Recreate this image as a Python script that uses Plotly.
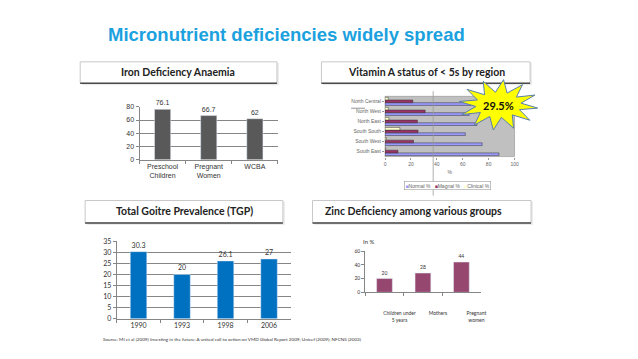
import math
import plotly.graph_objects as go

# page is shown with the default 8px body margin, so the figure is sized to fit inside it
OFF = 8
W, H = 638 - 2 * OFF, 359 - 2 * OFF

# ---------------- data ----------------
iron_cats = ["Preschool<br>Children", "Pregnant<br>Women", "WCBA"]
iron_vals = [76.1, 66.7, 62]

regions = ["North Central", "North West", "North East", "South South", "South West", "South East"]
vit_normal = [70, 65, 71, 62, 75, 88]
vit_magnal = [21.5, 31, 25, 25.5, 22, 10]
vit_clinical = [2.5, 2.5, 3, 11.5, 1, 0.5]
vit_star = "29.5%"

tgp_years = ["1990", "1993", "1998", "2006"]
tgp_vals = [30.3, 20, 26.1, 27]

zinc_cats = ["Children under<br>5 years", "Mothers", "Pregnant<br>women"]
zinc_vals = [20, 28, 44]

title = "Micronutrient deficiencies widely spread"
headers = ["Iron Deficiency Anaemia", "Vitamin A status of < 5s by region",
           "Total Goitre Prevalence (TGP)", "Zinc Deficiency among various groups"]
source = ("Source: MI et al (2009) Investing in the future: A united call to action on VMD Global Report 2009; "
          "Unicef (2009); NFCNS (2003)")


def px(x):
    return (x - OFF) / W


def py(y):
    return 1 - (y - OFF) / H


ARIAL = "Liberation Sans, Arial, sans-serif"
CAL = "Lato, Carlito, Calibri, sans-serif"

fig = go.Figure()

# Iron
fig.add_trace(go.Bar(x=iron_cats, y=iron_vals, xaxis="x", yaxis="y",
                     marker=dict(color="#595959"), width=0.35,
                     text=[str(v) for v in iron_vals], textposition="outside",
                     textfont=dict(size=7, color="#333", family=ARIAL),
                     cliponaxis=False, showlegend=False))

# Vitamin A
vit_specs = [("Normal %", vit_normal, "#9999ff", -0.405),
             ("Magnal %", vit_magnal, "#993366", -0.135),
             ("Clinical %", vit_clinical, "#ffffcc", 0.135)]
for name, vals, col, off in vit_specs:
    fig.add_trace(go.Bar(y=regions, x=vals, orientation="h", xaxis="x2", yaxis="y2",
                         name=name, marker=dict(color=col, line=dict(color="#333", width=0.5)),
                         width=0.27, offset=off, showlegend=False))

# TGP
fig.add_trace(go.Bar(x=tgp_years, y=tgp_vals, xaxis="x3", yaxis="y3",
                     marker=dict(color="#0070c0"), width=0.38,
                     text=[str(v) for v in tgp_vals], textposition="outside",
                     textfont=dict(size=7, color="#333", family=CAL),
                     cliponaxis=False, showlegend=False))

# Zinc
fig.add_trace(go.Bar(x=zinc_cats, y=zinc_vals, xaxis="x4", yaxis="y4",
                     marker=dict(color="#95476f"), width=0.41,
                     text=[str(v) for v in zinc_vals], textposition="outside",
                     textfont=dict(size=5, color="#333", family=CAL),
                     cliponaxis=False, showlegend=False))

axline = dict(showline=True, linecolor="#868686", linewidth=1)

fig.update_layout(
    width=W, height=H, autosize=False,
    margin=dict(l=0, r=0, t=0, b=0),
    paper_bgcolor="white", plot_bgcolor="rgba(0,0,0,0)",
    barmode="group",
    showlegend=False,
    # Iron
    xaxis=dict(domain=[px(140), px(280)], anchor="y", **axline, tickangle=0,
               ticks="outside", ticklen=3, tickcolor="#868686", tickson="boundaries",
               tickfont=dict(size=7, color="#333", family=ARIAL)),
    yaxis=dict(domain=[py(158.3), py(104)], anchor="x", range=[0, 80], dtick=20, **axline,
               ticks="outside", ticklen=3, tickcolor="#868686",
               showgrid=True, gridcolor="#868686", gridwidth=1,
               tickfont=dict(size=7, color="#333", family=ARIAL)),
    # Vitamin A
    xaxis2=dict(domain=[px(388.3), px(519.3)], anchor="y2", range=[0, 100], dtick=20,
                showline=False, showgrid=False, zeroline=False,
                ticks="outside", ticklen=2, tickcolor="#999",
                tickfont=dict(size=5, color="#666", family=ARIAL),
                title=dict(text="%", font=dict(size=5, color="#666", family=ARIAL), standoff=4)),
    yaxis2=dict(domain=[py(155), py(93.3)], anchor="x2", categoryorder="array",
                categoryarray=regions[::-1], showline=False, showgrid=False,
                ticks="outside", ticklen=2, tickcolor="#999",
                tickfont=dict(size=5, color="#666", family=ARIAL)),
    # TGP
    xaxis3=dict(domain=[px(117), px(293)], anchor="y3", **axline, tickangle=0,
                ticks="outside", ticklen=3, tickcolor="#868686", tickson="boundaries",
                tickfont=dict(size=7, color="#333", family=CAL)),
    yaxis3=dict(domain=[py(321), py(241.7)], anchor="x3", range=[0, 35], dtick=5, **axline,
                ticks="outside", ticklen=3, tickcolor="#868686",
                showgrid=True, gridcolor="#868686", gridwidth=1, zeroline=False,
                tickfont=dict(size=7, color="#333", family=CAL)),
    # Zinc
    xaxis4=dict(domain=[px(368.3), px(485)], anchor="y4", **axline, tickangle=0,
                ticks="outside", ticklen=3, tickcolor="#868686", tickson="boundaries",
                ticklabelshift=15, ticklabelstandoff=16,
                tickfont=dict(size=5, color="#333", family=CAL)),
    yaxis4=dict(domain=[py(294), py(251.7)], anchor="x4", range=[0, 60], dtick=20, **axline,
                ticks="outside", ticklen=3, tickcolor="#868686", showgrid=False, zeroline=False,
                tickfont=dict(size=5, color="#333", family=CAL)),
)

shapes = []
# vitamin plot area background
shapes.append(dict(type="rect", xref="x2 domain", yref="y2 domain", x0=0, x1=1, y0=0, y1=1,
                   fillcolor="#c0c0c0", line=dict(color="#808080", width=0.5), layer="below"))

# header boxes
boxes = [(80, 279, 58, 80), (324, 535, 58, 80), (85, 285, 200, 223), (315, 536, 200, 223)]
for x0, x1, y0, y1 in boxes:
    shapes.append(dict(type="rect", xref="paper", yref="paper", x0=px(x0 + 2), x1=px(x1 + 2),
                       y0=py(y1 + 2), y1=py(y0 + 1), fillcolor="#ececec", line=dict(width=0), layer="below"))
    shapes.append(dict(type="rect", xref="paper", yref="paper", x0=px(x0), x1=px(x1),
                       y0=py(y1), y1=py(y0), fillcolor="white",
                       line=dict(color="#c8c8c8", width=1), layer="below"))
    shapes.append(dict(type="line", xref="paper", yref="paper", x0=px(x0), x1=px(x1),
                       y0=py(y1), y1=py(y1), line=dict(color="#4a4a4a", width=1.5)))

# stray lines on the vitamin chart image
shapes.append(dict(type="line", xref="paper", yref="paper", x0=px(437), x1=px(437),
                   y0=py(195), y1=py(88), line=dict(color="#9a9a9a", width=0.8)))
shapes.append(dict(type="line", xref="paper", yref="paper", x0=px(354), x1=px(368),
                   y0=py(105.5), y1=py(105.5), line=dict(color="#777", width=0.8)))

# starburst
cx, cy = 503, 102
npts = 12
pts = []
for i in range(npts * 2):
    ang = math.pi * i / npts + 0.13
    if i % 2 == 0:
        rx, ry = 40, 26
    else:
        rx, ry = 23, 13
    pts.append((cx + rx * math.cos(ang), cy + ry * math.sin(ang)))
path = "M " + " L ".join(f"{px(x):.5f},{py(y):.5f}" for x, y in pts) + " Z"
shapes.append(dict(type="path", xref="paper", yref="paper", path=path,
                   fillcolor="#ffff00", line=dict(color="#5a7fa8", width=1)))

fig.update_layout(shapes=shapes)

ann = []
ann.append(dict(text=f"<b>{title}</b>", x=px(106), y=py(30), xref="paper", yref="paper",
                xanchor="left", yanchor="middle", showarrow=False,
                font=dict(size=18.5, color="#1ba1de", family=ARIAL)))
hpos = [(179, 68.5), (430, 68.5), (185, 211), (417, 211)]
for (hx, hy), t in zip(hpos, headers):
    ann.append(dict(text=f"<b>{t}</b>", x=px(hx), y=py(hy), xref="paper", yref="paper",
                    xanchor="center", yanchor="middle", showarrow=False,
                    font=dict(size=10.5, color="#222", family=CAL)))
ann.append(dict(text=f"<b>{vit_star}</b>", x=px(503), y=py(103), xref="paper", yref="paper",
                xanchor="center", yanchor="middle", showarrow=False,
                font=dict(size=11, color="#111", family=CAL)))
legend_txt = "   ".join(f"<span style='color:{c}'>■</span>{n}" for n, _, c, _ in vit_specs)
ann.append(dict(text=legend_txt, x=px(451), y=py(185), xref="paper", yref="paper",
                xanchor="center", yanchor="middle", showarrow=False,
                bordercolor="#888", borderwidth=0.5, borderpad=1, bgcolor="white",
                font=dict(size=5, color="#666", family=ARIAL)))
ann.append(dict(text="In %", x=px(372), y=py(242), xref="paper", yref="paper",
                xanchor="center", yanchor="middle", showarrow=False,
                font=dict(size=6, color="#333", family=CAL)))
ann.append(dict(text=source, x=px(101.5), y=py(342), xref="paper", yref="paper",
                xanchor="left", yanchor="middle", showarrow=False,
                font=dict(size=4.6, color="#333", family=CAL)))
fig.update_layout(annotations=ann)

fig.write_html("out.html")
